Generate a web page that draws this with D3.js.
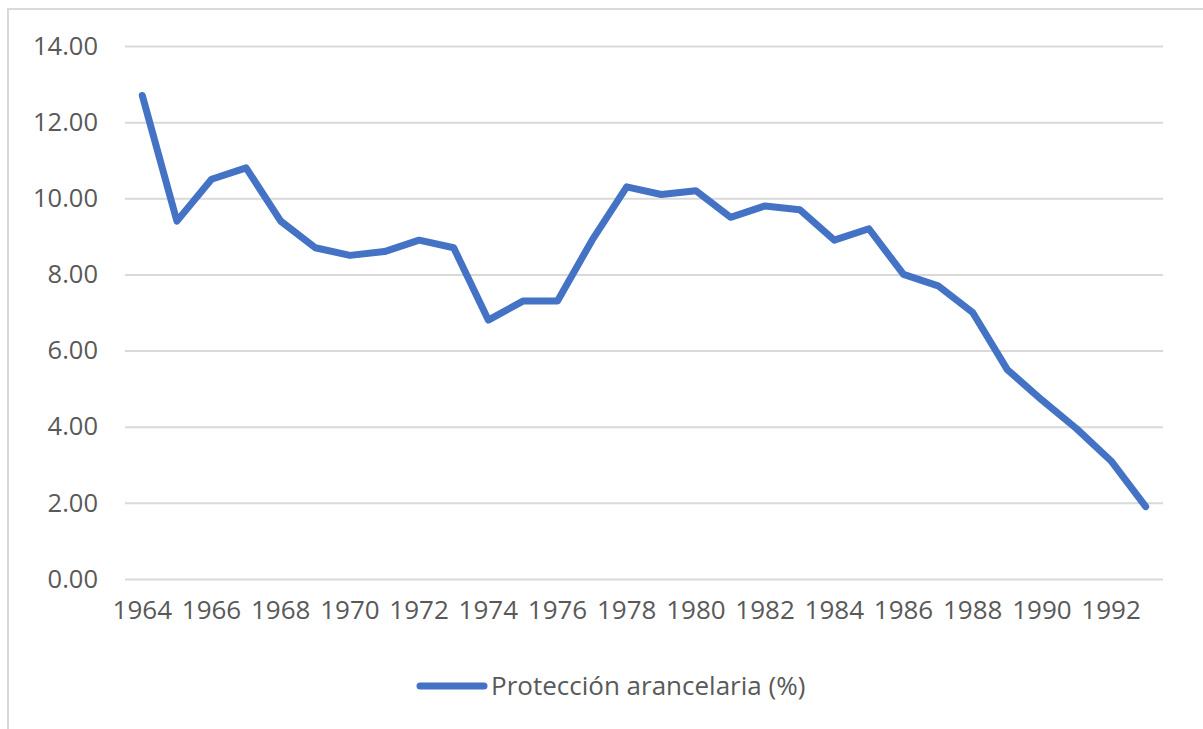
<!DOCTYPE html>
<html>
<head>
<meta charset="utf-8">
<script src="https://cdn.jsdelivr.net/npm/d3@7"></script>
<style>
  body { margin: 0; background: #fff; }
  #chart { width: 1203px; height: 729px; }
  text { font-family: "Open Sans", "Noto Sans", sans-serif; fill: #595959; }
</style>
</head>
<body>
<div id="chart"></div>
<script>
// data
const years = d3.range(1964, 1994);
const proteccion = [12.7, 9.4, 10.5, 10.8, 9.4, 8.7, 8.5, 8.6, 8.9, 8.7,
    6.8, 7.3, 7.3, 8.9, 10.3, 10.1, 10.2, 9.5, 9.8, 9.7,
    8.9, 9.2, 8.0, 7.7, 7.0, 5.5, 4.7, 3.95, 3.1, 1.9];
const yTicks = [0, 2, 4, 6, 8, 10, 12, 14];
const seriesName = "Protección arancelaria (%)";

const W = 1203, H = 729;
const margin = { top: 46, right: 40, bottom: 150, left: 125 },
    width = 1163 - margin.left,
    height = 579 - margin.top;

const root = d3.select("#chart").append("svg")
    .attr("width", W)
    .attr("height", H);

// outer chart frame (cut off at right/bottom)
root.append("rect")
    .attr("x", 8).attr("y", 9)
    .attr("width", W).attr("height", H)
    .attr("fill", "none")
    .attr("stroke", "#d9d9d9")
    .attr("stroke-width", 2);

const svg = root.append("g")
    .attr("transform", `translate(${margin.left},${margin.top})`);

const x = d3.scaleBand()
    .domain(years)
    .range([0, width]);

const y = d3.scaleLinear()
    .domain([0, 14])
    .range([height, 0]);

// gridlines + y labels
const yAxis = svg.append("g")
    .call(d3.axisLeft(y).tickValues(yTicks).tickSize(-width).tickFormat(d3.format(".2f")));
yAxis.select(".domain").remove();
yAxis.selectAll(".tick line")
    .attr("stroke", "#d9d9d9")
    .attr("stroke-width", 2);
yAxis.selectAll(".tick text")
    .attr("x", -27)
    .style("font-size", "25.5px")
    .attr("fill", "#595959");

// x labels, every other year
const xAxis = svg.append("g")
    .attr("transform", `translate(0,${height})`)
    .call(d3.axisBottom(x).tickValues(years.filter(d => (d - 1964) % 2 === 0)).tickSize(0));
xAxis.select(".domain").remove();
xAxis.selectAll(".tick text")
    .attr("y", 22)
    .style("font-size", "26px")
    .attr("fill", "#595959");

const line = d3.line()
    .x((d, i) => x(years[i]) + x.bandwidth() / 2)
    .y(d => y(d));

svg.append("path")
    .datum(proteccion)
    .attr("fill", "none")
    .attr("stroke", "#4472c4")
    .attr("stroke-width", 7)
    .attr("stroke-linejoin", "round")
    .attr("stroke-linecap", "round")
    .attr("d", line);

// legend
const legend = root.append("g").attr("transform", "translate(417,686)");
legend.append("line")
    .attr("x1", 3).attr("x2", 67)
    .attr("y1", 0).attr("y2", 0)
    .attr("stroke", "#4472c4")
    .attr("stroke-width", 7)
    .attr("stroke-linecap", "round");
legend.append("text")
    .attr("x", 74)
    .attr("y", 0)
    .attr("dy", "0.35em")
    .style("font-size", "26px")
    .text(seriesName);
</script>
</body>
</html>
